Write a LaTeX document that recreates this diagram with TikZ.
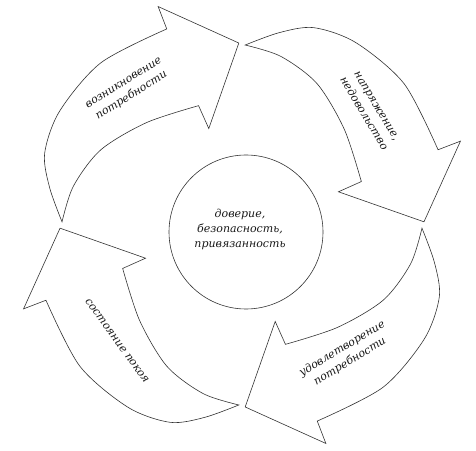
\documentclass[tikz,border=0pt]{standalone}
\usepackage{fontspec}
\setmainfont{DejaVu Serif}
\begin{document}
\begin{tikzpicture}[x=1pt,y=1pt,
    cyclearrow/.style={draw=black!80, line width=0.6pt, fill=white, line join=miter},
    cyclelabel/.style={font=\itshape\fontsize{11}{15}\selectfont, align=center, inner sep=0pt, text=black!90}]
    \useasboundingbox (0,0) rectangle (476,450);
    \coordinate (c) at (242,225);
    % one arrow, turned four times round the centre
    \foreach \r in {0,-90,-180,-270}{
        \begin{scope}[shift={(c)},rotate=\r]
            \draw[cyclearrow] plot[smooth] coordinates {(179:180) (169:196) (160:210) (148:215) (131:215) (111:210)}
                -- (111:234) -- (91:182) -- (109:102) -- (110:127)
                -- plot[smooth] coordinates {(110:127) (133:140) (152:160) (167:173) (179:180)} -- cycle;
        \end{scope}
    };
    \node[draw=black!80, line width=0.6pt, circle, minimum size=154pt, inner sep=0pt] (core) at (246,218) {};
    \node[cyclelabel] (trust) at (240,221) {доверие,\\безопасность,\\привязанность};
    \node[cyclelabel, rotate=32] (arise) at (128,360) {возникновение\\потребности};
    \node[cyclelabel, rotate=-59] (strain) at (370,340) {напряжение,\\недовольство};
    \node[cyclelabel, rotate=31] (relief) at (346,95) {удовлетворение\\потребности};
    \node[cyclelabel, rotate=-54] (rest) at (117,109) {состояние покоя};
\end{tikzpicture}
\end{document}
